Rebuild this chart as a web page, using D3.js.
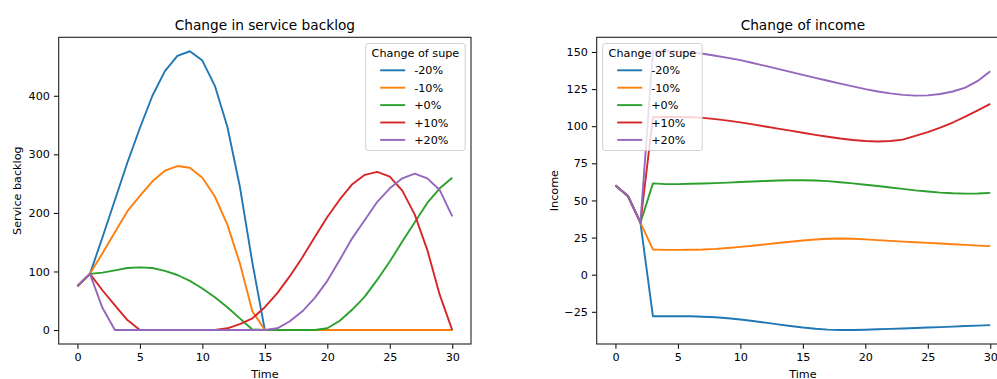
<!DOCTYPE html>
<html>
<meta charset="utf-8"/>
<head>
  <title>Change in service backlog / income</title>
  <style>
    body { margin: 0; background: #fff; }
    text { font-family: "DejaVu Sans", sans-serif; fill: #000; }
    .tick text { font-size: 11.2px; }
    .tick line { stroke: #000; stroke-width: 1px; }
    .domain { display: none; }
  </style>
</head>
<body>
<svg width="997" height="379"></svg>
<script src="https://d3js.org/d3.v7.min.js"></script>
<script>
// time steps 0..30
var time = [0,1,2,3,4,5,6,7,8,9,10,11,12,13,14,15,16,17,18,19,20,21,22,23,24,25,26,27,28,29,30];
var seriesLabels = ["-20%", "-10%", "+0%", "+10%", "+20%"];

// service backlog per scenario
var backlogM20 = [75,96,158,222,286,345,400,442,468,476,460,417,347,245,115,0,0,0,0,0,0,0,0,0,0,0,0,0,0,0,0];
var backlogM10 = [75,96,131,167,203,229,254,272,280,277,260,228,180,114,32,0,0,0,0,0,0,0,0,0,0,0,0,0,0,0,0];
var backlogP0  = [75,96,98,102,106,107,106,101,94,84,71,56,39,20,1,0,0,0,0,0,3,16,35,57,86,117,151,184,217,242,260];
var backlogP10 = [75,96,68,42,17,0,0,0,0,0,0,0,3,10,20,39,63,92,124,159,193,223,249,265,270,262,238,197,137,60,0];
var backlogP20 = [75,96,38,0,0,0,0,0,0,0,0,0,0,0,0,0,3,15,32,55,84,120,157,188,219,242,259,267,259,239,194];

// income per scenario
var incomeM20 = [60,53,35,-28,-28,-28,-28,-28.3,-28.7,-29.3,-30.2,-31.2,-32.3,-33.5,-34.6,-35.6,-36.4,-37,-37.3,-37.3,-37.1,-36.8,-36.5,-36.2,-35.9,-35.6,-35.3,-35,-34.6,-34.3,-34];
var incomeM10 = [60,53,35,17,16.7,16.7,16.8,17,17.4,18,18.7,19.5,20.4,21.3,22.2,23,23.7,24.2,24.4,24.2,23.8,23.3,22.8,22.3,21.8,21.4,21,20.5,20.1,19.6,19.2];
var incomeP0  = [60,53,35,61.5,61,61,61.2,61.4,61.7,62,62.4,62.8,63.1,63.4,63.6,63.6,63.4,63,62.3,61.5,60.6,59.7,58.7,57.8,56.8,56,55.3,54.8,54.6,54.7,55.1];
var incomeP10 = [60,53,35,106,106.2,106.2,106,105.6,104.8,103.8,102.6,101.2,99.8,98.4,97,95.6,94.2,92.9,91.7,90.7,90,89.7,90,91,93.5,96,99,102.5,106.5,110.7,115];
var incomeP20 = [60,53,35,150.3,150.5,150.3,149.7,148.8,147.5,146,144.5,142.6,140.6,138.6,136.6,134.6,132.6,130.6,128.7,126.8,125,123.4,122.1,121.1,120.6,120.8,121.7,123.4,126,130.5,137];

var xTicks = [0,5,10,15,20,25,30];
var backlogTicks = [0,100,200,300,400];
var incomeTicks = [-25,0,25,50,75,100,125,150];

var colors = ["#1f77b4", "#ff7f0e", "#2ca02c", "#d62728", "#9467bd"];

var svg = d3.select("svg");

function pad(ext) {
  var m = (ext[1] - ext[0]) * 0.05;
  return [ext[0] - m, ext[1] + m];
}

function drawPanel(p) {
  var g = svg.append("g");
  var x = d3.scaleLinear().domain(pad([0, 30])).range([p.left, p.right]);
  var all = [].concat.apply([], p.series);
  var y = d3.scaleLinear().domain(pad(d3.extent(all))).range([p.bottom, p.top]);

  g.append("g")
    .attr("transform", "translate(0," + p.bottom + ")")
    .call(d3.axisBottom(x).tickValues(xTicks).tickSize(4.8).tickPadding(4.5).tickFormat(d3.format("d")));
  g.append("g")
    .attr("transform", "translate(" + p.left + ",0)")
    .call(d3.axisLeft(y).tickValues(p.yTicks).tickSize(4.8).tickPadding(4).tickFormat(d3.format("d")));

  var line = d3.line().x(function(d, i) { return x(time[i]); }).y(function(d) { return y(d); });
  p.series.forEach(function(s, i) {
    g.append("path")
      .attr("d", line(s))
      .attr("fill", "none")
      .attr("stroke", colors[i])
      .attr("stroke-width", 1.9)
      .attr("stroke-linejoin", "round");
  });

  // frame
  g.append("rect")
    .attr("x", p.left).attr("y", p.top)
    .attr("width", p.right - p.left).attr("height", p.bottom - p.top)
    .attr("fill", "none").attr("stroke", "#222").attr("stroke-width", 1.1);

  g.append("text")
    .attr("x", (p.left + p.right) / 2).attr("y", 29.5)
    .attr("text-anchor", "middle").style("font-size", "13.7px")
    .text(p.title);
  g.append("text")
    .attr("x", (p.left + p.right) / 2).attr("y", 377.5)
    .attr("text-anchor", "middle").style("font-size", "11.2px")
    .text("Time");
  g.append("text")
    .attr("transform", "translate(" + p.ylabelX + "," + (p.top + p.bottom) / 2 + ") rotate(-90)")
    .attr("text-anchor", "middle").style("font-size", "11.2px")
    .text(p.ylabel);

  // legend
  var lg = g.append("g").attr("transform", "translate(" + p.legendX + "," + 43.5 + ")");
  lg.append("rect")
    .attr("width", 99.5).attr("height", 107).attr("rx", 2.5)
    .attr("fill", "#fff").attr("fill-opacity", 0.8)
    .attr("stroke", "#ccc").attr("stroke-width", 0.9);
  lg.append("text").attr("x", 49.75).attr("y", 13.5)
    .attr("text-anchor", "middle").style("font-size", "11.2px")
    .text("Change of supe");
  seriesLabels.forEach(function(lab, i) {
    var yy = 26.8 + i * 17.4;
    lg.append("line")
      .attr("x1", 14.5).attr("x2", 39.5).attr("y1", yy).attr("y2", yy)
      .attr("stroke", colors[i]).attr("stroke-width", 1.9);
    lg.append("text").attr("x", 48.5).attr("y", yy + 4.1)
      .style("font-size", "11.2px").text(lab);
  });
}

drawPanel({
  title: "Change in service backlog", ylabel: "Service backlog",
  left: 58.7, right: 471, top: 37.3, bottom: 344, ylabelX: 20.5,
  yTicks: backlogTicks, legendX: 365.7,
  series: [backlogM20, backlogM10, backlogP0, backlogP10, backlogP20]
});
drawPanel({
  title: "Change of income", ylabel: "Income",
  left: 596.7, right: 1009, top: 37.3, bottom: 344, ylabelX: 558,
  yTicks: incomeTicks, legendX: 602.7,
  series: [incomeM20, incomeM10, incomeP0, incomeP10, incomeP20]
});
</script>
</body>
</html>
